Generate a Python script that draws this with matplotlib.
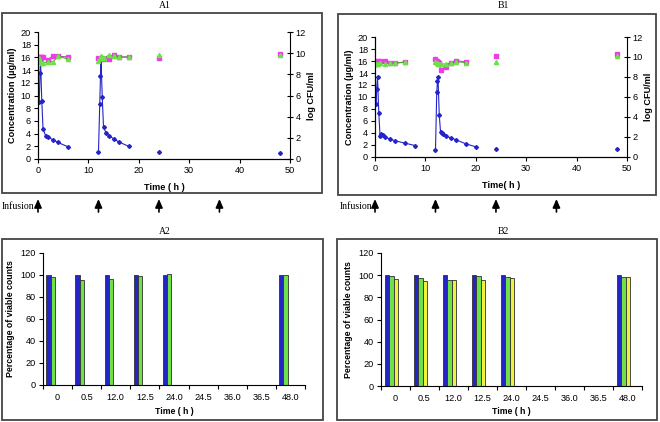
import numpy as np
import matplotlib
matplotlib.use('Agg')
import matplotlib.pyplot as plt
from matplotlib.patches import Rectangle
from matplotlib.transforms import blended_transform_factory

nan = np.nan

# ── A1: concentration (ug/ml) and log CFU/ml vs time (NaN = break in line) ──
a1_conc_t = [0.25, 0.4, 0.5, 0.75, 1, 1.5, 2, 3, 4, 6, nan,
             12, 12.25, 12.4, 12.5, 12.75, 13, 13.5, 14, 15, 16, 18, nan,
             24, nan, 48]
a1_conc = [9.0, 13.5, 15.5, 9.2, 4.7, 3.7, 3.5, 3.0, 2.6, 1.9, nan,
           1.1, 8.6, 13.1, 15.8, 9.7, 5.0, 4.1, 3.7, 3.2, 2.7, 2.0, nan,
           1.1, nan, 0.9]
a1_cfu_t = [0, 0.25, 0.5, 0.75, 1, 2, 3, 4, 6, nan,
            12, 12.25, 12.5, 12.75, 13, 14, 15, 16, 18, nan, 24, nan, 48]
a1_cfu_pink = [9.65, 9.65, 9.6, 9.65, 9.6, 9.4, 9.75, 9.7, 9.65, nan,
               9.5, 9.45, 9.45, 9.5, 9.45, 9.45, 9.8, 9.65, 9.65, nan, 9.5, nan, 9.95]
a1_cfu_green = [9.3, 9.5, 9.2, 9.1, 9.05, 9.15, 9.2, 9.7, 9.45, nan,
                9.3, 9.5, 9.75, 9.5, 9.5, 9.8, 9.75, 9.65, 9.6, nan, 9.85, nan, 9.85]

# ── B1 ──
b1_conc_t = [0.25, 0.33, 0.5, 0.75, 1, 1.25, 1.5, 2, 3, 4, 6, 8, nan,
             12, 12.25, 12.4, 12.5, 12.75, 13, 13.25, 13.5, 14, 15, 16, 18, 20, nan,
             24, nan, 48]
b1_conc = [8.9, 11.4, 13.3, 7.4, 3.5, 3.8, 3.6, 3.3, 3.0, 2.7, 2.3, 1.9, nan,
           1.1, 10.8, 12.7, 13.3, 7.0, 4.2, 4.0, 3.8, 3.5, 3.2, 2.9, 2.2, 1.7, nan,
           1.3, nan, 1.3]
b1_cfu_t = [0, 0.25, 0.5, 1, 2, 3, 4, 6, nan,
            12, 12.25, 12.5, 12.75, 13, 14, 15, 16, 18, nan, 24, nan, 48]
b1_cfu_pink = [9.6, 9.55, 9.6, 9.65, 9.6, 9.4, 9.4, 9.5, nan,
               9.8, 9.65, 9.55, 9.4, 8.75, 9.0, 9.4, 9.65, 9.5, nan, 10.1, nan, 10.35]
b1_cfu_green = [9.35, 9.3, 9.35, 9.4, 9.35, 9.37, 9.4, 9.47, nan,
                9.55, 9.45, 9.35, 9.3, 9.3, 9.3, 9.37, 9.55, 9.45, nan, 9.55, nan, 10.1]

infusion_times = [0, 12, 24, 36]

# ── A2 / B2: percentage of viable counts ──
categories = ['0', '0.5', '12.0', '12.5', '24.0', '24.5', '36.0', '36.5', '48.0']
a2_blue = [100, 100, 100, 100, 100, 0, 0, 0, 100]
a2_green = [98.0, 95.8, 96.7, 99.0, 101.0, 0, 0, 0, 99.7]
b2_blue = [100, 100, 100, 100, 100, 0, 0, 0, 100]
b2_green = [99.3, 97.2, 95.9, 98.8, 98.7, 0, 0, 0, 98.7]
b2_yellow = [96.3, 95.0, 95.9, 95.9, 97.6, 0, 0, 0, 98.2]

SANS = 'Liberation Sans'
SERIF = 'Liberation Serif'
BLUE = '#2424c8'
PINK = '#ee3ce8'
GREEN = '#6ee048'
YELLOW = '#f0f040'

fig = plt.figure(figsize=(6.6, 4.22), dpi=100)
W, H = 660, 422


def fig_rect(x0, y0, x1, y1):
    # pixel box (top-left origin) -> figure fraction rect
    return [x0 / W, 1 - y1 / H, (x1 - x0) / W, (y1 - y0) / H]


def frame(x0, y0, x1, y1):
    fig.patches.append(Rectangle((x0 / W, 1 - y1 / H), (x1 - x0) / W, (y1 - y0) / H,
                                 transform=fig.transFigure, fill=False,
                                 edgecolor='#444444', lw=1.3))


def style_ticks(ax):
    for lab in ax.get_xticklabels() + ax.get_yticklabels():
        lab.set_fontfamily(SANS)
        lab.set_fontsize(6.6)


def line_panel(rect, t, conc, tc, pink, green, xlabel, title, title_x, infusion_x):
    ax = fig.add_axes(rect)
    ax2 = ax.twinx()
    ax.plot(t, conc, color=BLUE, lw=0.8, marker='D', ms=2, mec=BLUE, zorder=3)
    ax2.plot(tc, pink, color='#8c6a8c', lw=0.8, marker='s', ms=3, mfc=PINK, mec=PINK)
    ax2.plot(tc, green, color='#5a9a40', lw=0.8, marker='^', ms=3, mfc=GREEN, mec=GREEN)
    ax.set_xlim(0, 50)
    ax.set_ylim(0, 20)
    ax2.set_ylim(0, 12)
    ax.set_xticks(range(0, 51, 10))
    ax.set_yticks(range(0, 21, 2))
    ax2.set_yticks(range(0, 13, 2))
    for a in (ax, ax2):
        a.spines['top'].set_visible(False)
        a.patch.set_visible(False)
    ax.spines['right'].set_visible(False)
    ax.tick_params(length=3, width=0.8, pad=2)
    ax2.tick_params(direction='inout', length=5, width=0.8, pad=1.5)
    ax.set_xlabel(xlabel, fontfamily=SANS, fontweight='bold', fontsize=6.6, labelpad=6)
    ax.set_ylabel('Concentration (µg/ml)', fontfamily=SANS, fontweight='bold',
                  fontsize=6.6, labelpad=3)
    ax2.set_ylabel('log CFU/ml', fontfamily=SANS, fontweight='bold', fontsize=6.6,
                   labelpad=1)
    style_ticks(ax)
    style_ticks(ax2)
    fig.text(title_x / W, 1 - 5 / H, title, fontfamily=SERIF, fontsize=7,
             ha='center', va='center')
    # infusion arrows below the panel
    tr = blended_transform_factory(ax.transData, fig.transFigure)
    for ti in infusion_times:
        ax.annotate('', xy=(ti, 1 - 199 / H), xytext=(ti, 1 - 212 / H),
                    xycoords=tr, textcoords=tr, annotation_clip=False,
                    arrowprops=dict(arrowstyle='-|>,head_length=0.5,head_width=0.22',
                                    color='black', lw=1.2, mutation_scale=10,
                                    shrinkA=0, shrinkB=0))
    fig.text(infusion_x / W, 1 - 206 / H, 'Infusion', fontfamily=SERIF, fontsize=7,
             ha='left', va='center')
    return ax


def bar_panel(rect, series, colors, offset, width, title, title_x):
    ax = fig.add_axes(rect)
    x = np.arange(len(categories))
    for k, (vals, c) in enumerate(zip(series, colors)):
        ax.bar(x + offset + k * width, vals, width=width, align='edge', color=c,
               edgecolor='#303030', lw=0.6)
    ax.set_xlim(0, len(categories))
    ax.set_ylim(0, 120)
    ax.set_yticks(range(0, 121, 20))
    ax.set_xticks(range(0, len(categories) + 1))
    ax.set_xticklabels([])
    ax.set_xticks(x + 0.5, minor=True)
    ax.set_xticklabels(categories, minor=True)
    ax.tick_params(axis='x', which='minor', length=0, pad=6)
    ax.tick_params(which='major', length=3, width=0.8, pad=2)
    for s in ('top', 'right'):
        ax.spines[s].set_visible(False)
    ax.set_xlabel('Time ( h )', fontfamily=SANS, fontweight='bold', fontsize=6.3,
                  labelpad=3)
    ax.set_ylabel('Percentage of viable counts', fontfamily=SANS, fontweight='bold',
                  fontsize=6.3, labelpad=4)
    for lab in ax.get_xticklabels(minor=True) + ax.get_yticklabels():
        lab.set_fontfamily(SANS)
        lab.set_fontsize(6.6)
    fig.text(title_x / W, 1 - 232 / H, title, fontfamily=SERIF, fontsize=7,
             ha='center', va='center')
    return ax


# panel frames
frame(2, 13, 322, 193)
frame(338, 14, 656, 195)
frame(2, 239, 323, 420)
frame(337, 239, 657, 420)

line_panel(fig_rect(38, 32, 290, 159), a1_conc_t, a1_conc, a1_cfu_t,
           a1_cfu_pink, a1_cfu_green, 'Time ( h )', 'A1', 165, 2)
line_panel(fig_rect(375, 37, 627, 157), b1_conc_t, b1_conc, b1_cfu_t,
           b1_cfu_pink, b1_cfu_green, 'Time( h )', 'B1', 503, 340)

bar_panel(fig_rect(43, 253, 305, 385), [a2_blue, a2_green], [BLUE, GREEN],
          0.115, 0.143, 'A2', 165)
bar_panel(fig_rect(381, 253, 642, 386), [b2_blue, b2_green, b2_yellow],
          [BLUE, GREEN, YELLOW], 0.138, 0.15, 'B2', 503)

fig.savefig('out.png', dpi=100)
